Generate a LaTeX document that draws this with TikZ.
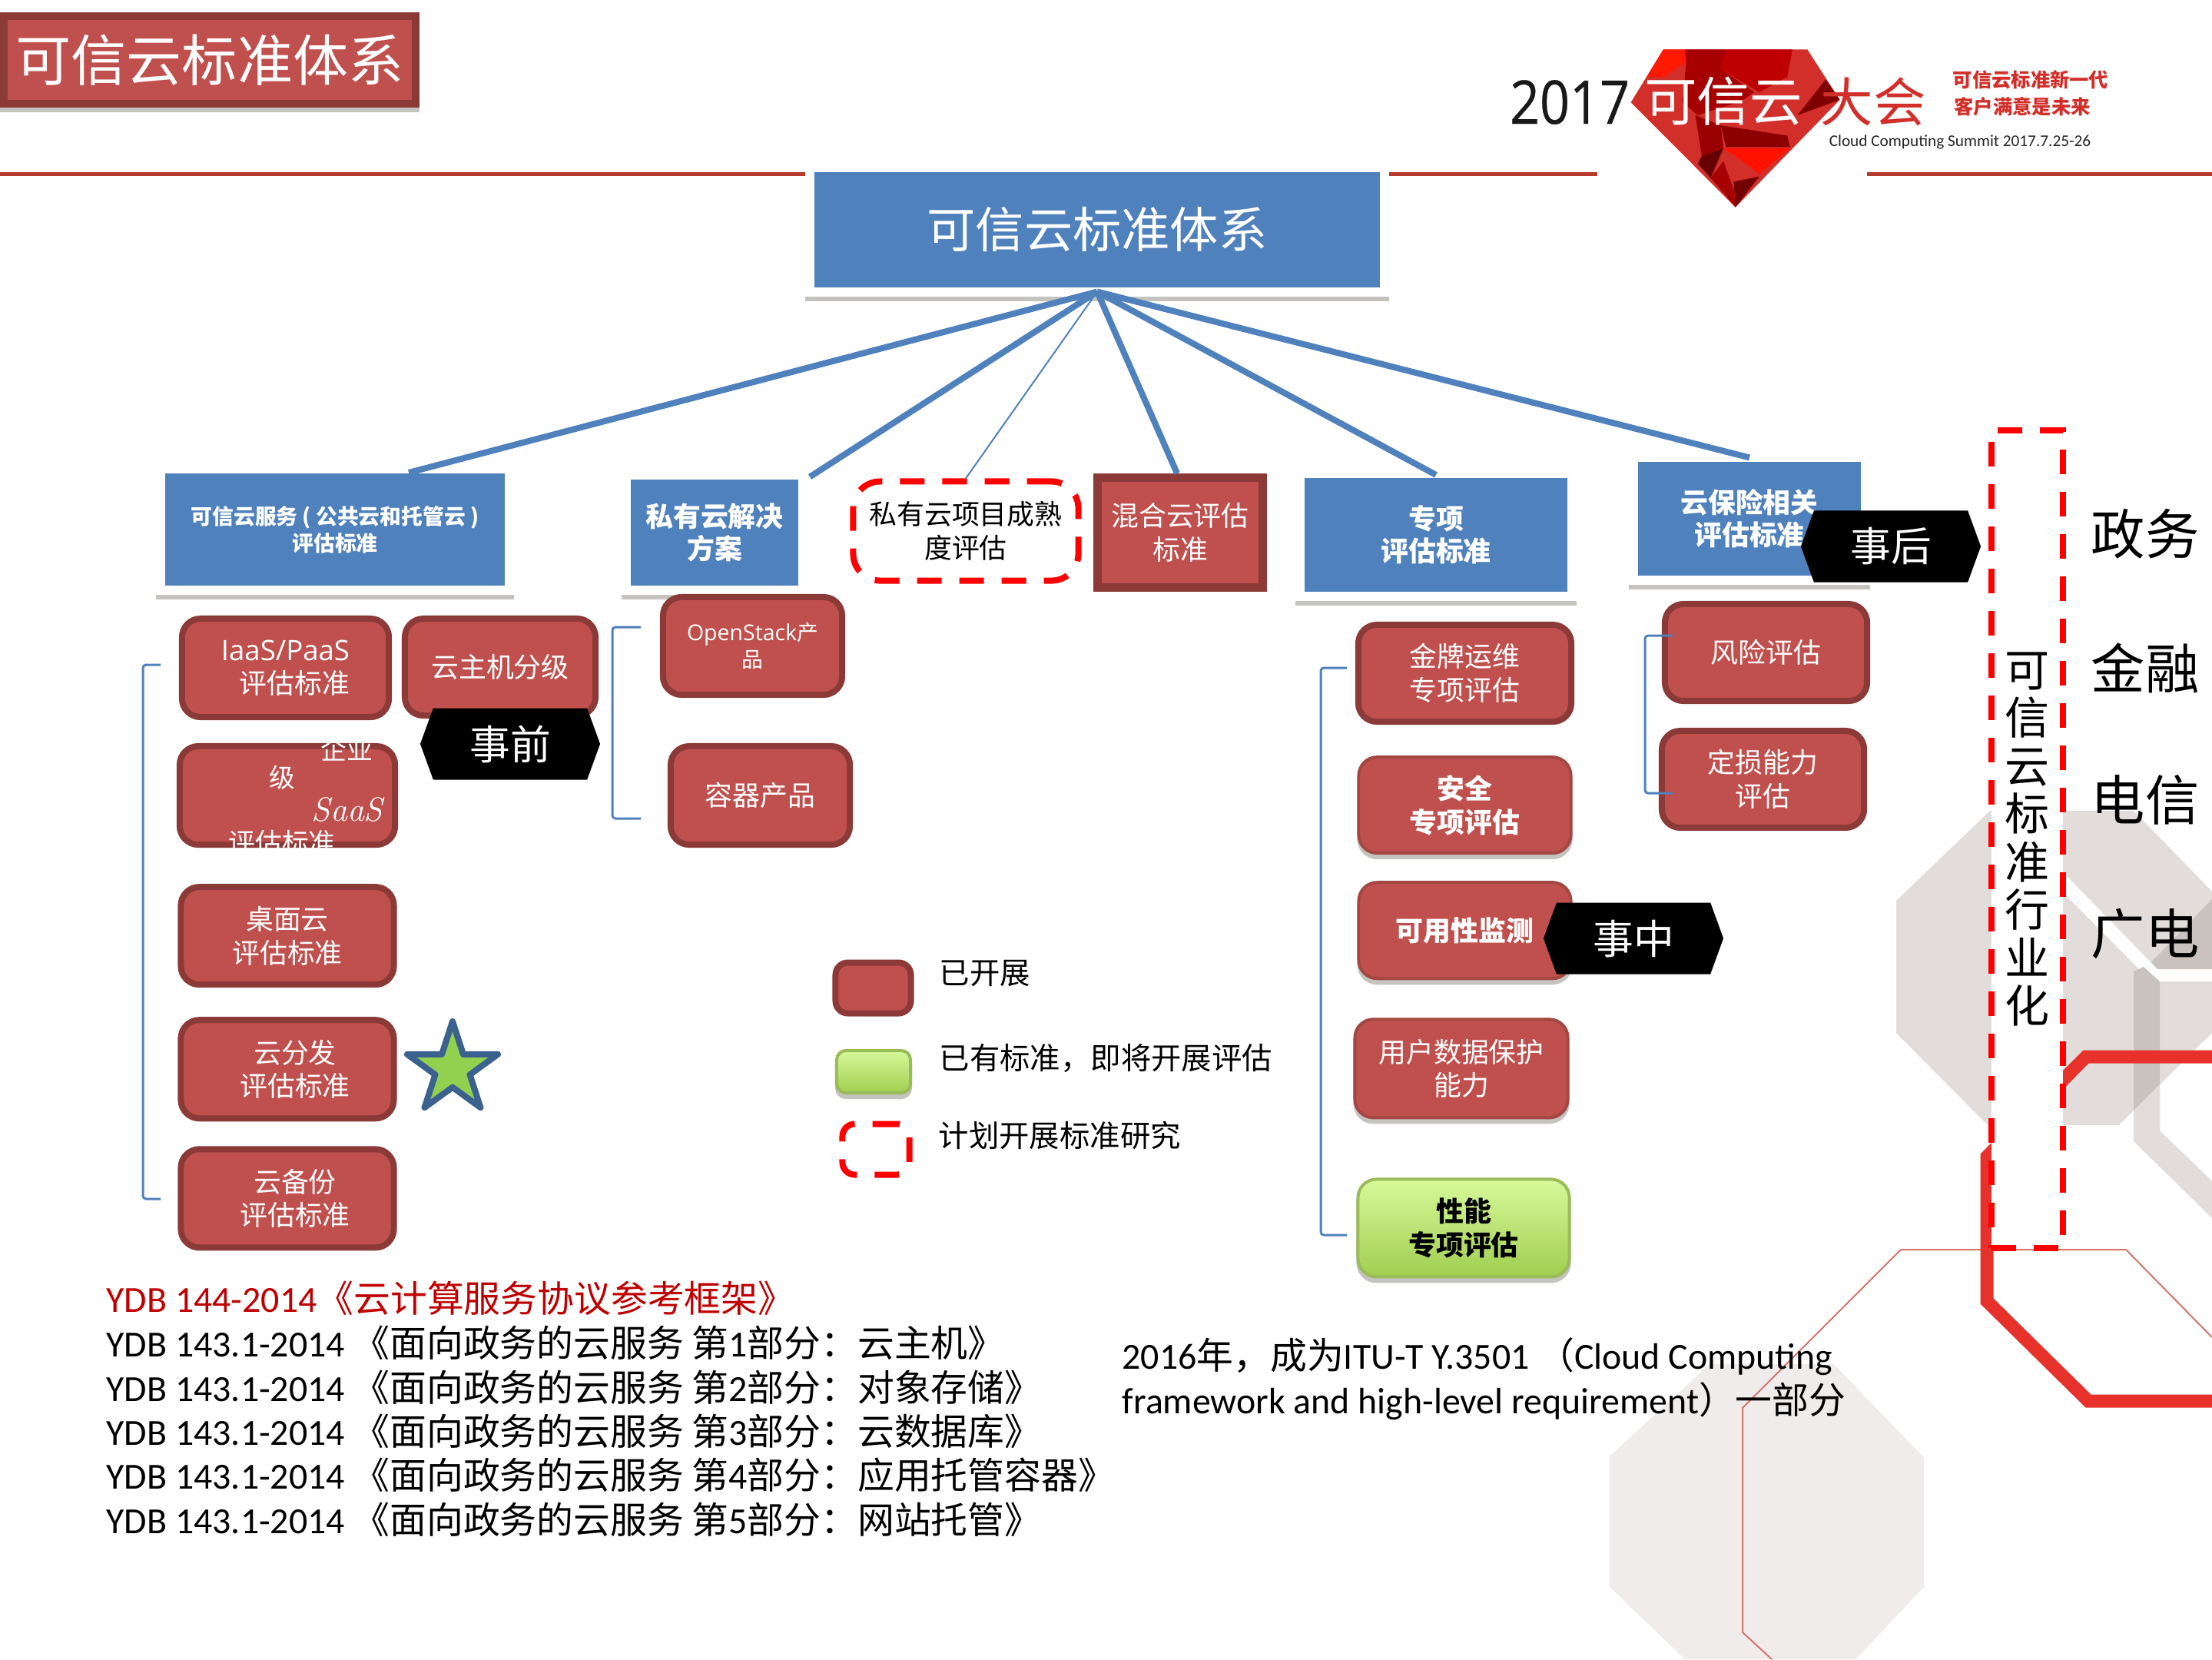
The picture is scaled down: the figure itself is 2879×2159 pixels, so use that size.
\documentclass[tikz,border=0pt]{standalone}
\usepackage{fontspec}
\usepackage{xcolor}
\usetikzlibrary{positioning}
\usetikzlibrary{shapes.geometric,shapes.symbols,shadows}

\newfontfamily\cjk{Noto Sans CJK SC}
\newfontfamily\opens{Open Sans}
\newfontfamily\carl{Carlito}
\newfontfamily\logonum{Open Sans}[FakeStretch=0.87,FakeBold=0.4]
\newcommand{\lat}[1]{{\carl #1}}
\newcommand{\fs}[2]{\cjk\fontsize{#1}{#2}\selectfont}

\definecolor{boxfill}{HTML}{C0504D}
\definecolor{boxedge}{HTML}{8C3A38}
\definecolor{softedge}{HTML}{A34744}
\definecolor{frameblue}{HTML}{4F81BD}
\definecolor{hexgray}{HTML}{E2DDDB}
\definecolor{hexdark}{HTML}{C9C2BF}
\definecolor{hexlight}{HTML}{F0ECEB}
\definecolor{hexred}{HTML}{E6322B}
\definecolor{thinred}{HTML}{D7746B}
\definecolor{rulered}{HTML}{B83A2B}
\definecolor{logored}{HTML}{D32F2A}
\definecolor{docred}{HTML}{C00000}
\definecolor{shadowgray}{HTML}{C4C3BE}
\definecolor{greentop}{HTML}{D7F99A}
\definecolor{greenbot}{HTML}{A0CE50}
\definecolor{greenedge}{HTML}{9ABB59}
\definecolor{starfill}{HTML}{92D050}
\definecolor{staredge}{HTML}{3B618F}

\tikzset{
  softshadow/.style={drop shadow={shadow xshift=0cm,shadow yshift=-.06cm,fill=shadowgray,draw=shadowgray,opacity=1}},
  redbox/.style={rounded corners=.24cm, draw=boxedge, fill=boxfill, line width=.08cm, text=white,
    align=center, inner sep=0pt, font=\fs{10.2}{12.4}},
  softbox/.style={redbox, draw=softedge, line width=.04cm, softshadow},
  greenbox/.style={rounded corners=.24cm, draw=greenedge, line width=.04cm,
    top color=greentop, bottom color=greenbot, softshadow,
    align=center, inner sep=0pt, font=\fs{10.2}{12.4}},
  framebox/.style={draw=white, fill=frameblue, line width=.12cm, text=white, align=center,
    inner sep=0pt, softshadow, font=\fs{10.2}{12.0}\bfseries},
  planbox/.style={draw=red, line width=.08cm, dash pattern=on .32cm off .23cm, align=center, inner sep=0pt},
  phase/.style={signal, signal to=west and east, signal pointer angle=140, fill=black, text=white,
    inner sep=0pt, minimum width=2.34cm, minimum height=.93cm, font=\fs{15}{18}},
  trunk/.style={draw=frameblue, line width=.08cm},
  twig/.style={draw=frameblue, line width=.02cm},
  bracketline/.style={draw=frameblue, line width=.03cm, rounded corners=.04cm},
  rule/.style={draw=rulered, line width=.05cm},
  caption/.style={anchor=west, inner sep=0pt, font=\fs{11.2}{13}},
  docline/.style={anchor=west, inner sep=0pt, font=\fs{13.6}{16}},
  sideword/.style={inner sep=0pt, font=\fs{20}{23}},
}

\begin{document}
\begin{tikzpicture}[x=.01cm,y=-.01cm]
  \useasboundingbox (0,0) rectangle (2879,2159);
  \fill [white] (0,0) rectangle (2879,2159);

  % background hexagons
  \fill [hexlight] (2225,1775) -- (2387,1775) -- (2504,1897) -- (2504,2065) -- (2415,2159) -- (2193,2159) -- (2095,2065) -- (2095,1895) -- cycle;
  \fill [hexgray] (2468,1172) -- (2590,1055) -- (2777,1055) -- (2879,1160) -- (2879,1344) -- (2758,1464) -- (2587,1464) -- (2468,1344) -- cycle;
  \fill [white] (2685,1135) -- (2808,1261) -- (2879,1261) -- (2879,1277) -- (2800,1277) -- (2685,1161) -- cycle;
  \fill [hexdark] (2800,1252) -- (2879,1170) -- (2879,1261) -- (2808,1261) -- cycle;
  \fill [hexdark] (2777,1264) -- (2790,1258) -- (2811,1277) -- (2811,1413) -- (2777,1445) -- cycle;
  \fill [hexgray] (2777,1445) -- (2811,1411) -- (2811,1471) -- (2879,1537) -- (2879,1585) -- (2777,1485) -- cycle;
  \draw [thinred, line width=.02cm] (2306,2159) -- (2268,2124) -- (2268,1832) -- (2474,1626) -- (2767,1626) -- (2879,1740);
  \draw [hexred, line width=.17cm] (2879,1375) -- (2715,1375) -- (2586,1505) -- (2586,1693) -- (2718,1823) -- (2879,1823);

  % header rules
  \draw [rule] (0,226) -- (1048,226);
  \draw [rule] (1808,226) -- (2079,226);
  \draw [rule] (2430,226) -- (2879,226);

  % logo
  \begin{scope}[shift={(2100,50)},x=.003333cm,y=-.003333cm]
    \fill [fill=logored] (195,43) -- (758,43) -- (885,240) -- (477,660) -- (68,250) -- cycle;
    \fill [fill=red!80!orange] (195,43) -- (280,43) -- (285,90) -- (200,150) -- (130,150) -- cycle;
    \fill [fill=red!65!black] (280,43) -- (440,43) -- (420,120) -- (550,210) -- (500,245) -- (330,300) -- (270,250) -- (285,90) -- cycle;
    \fill [fill=red!75!black] (440,43) -- (700,43) -- (680,150) -- (570,210) -- (420,120) -- cycle;
    \fill [fill=red!50!black] (885,240) -- (830,160) -- (720,300) -- cycle;
    \fill [fill=red!60!black] (320,300) -- (420,340) -- (430,430) -- (345,460) -- cycle;
    \fill [fill=red!40!black] (345,460) -- (430,430) -- (380,545) -- (330,490) -- cycle;
    \fill [fill=red!85!orange] (430,430) -- (690,430) -- (570,530) -- (490,470) -- cycle;
    \fill [fill=red!55!black] (420,340) -- (680,380) -- (690,425) -- (440,425) -- cycle;
    \fill [fill=red!65!black] (380,545) -- (430,480) -- (470,590) -- (477,660) -- cycle;
    \fill [fill=red!45!black] (470,560) -- (570,540) -- (477,660) -- cycle;
  \end{scope}
  \node(logoyear) [inner sep=0pt, text=black!90, font=\logonum\fontsize{22.3}{26}\selectfont] at (2043,133) {2017};
  \node(logocloud) [inner sep=0pt, text=white, font=\fs{19.5}{22}] at (2243,132) {可信云};
  \node(logomeet) [inner sep=0pt, text=logored, font=\fs{19.5}{22}] at (2438,132) {大会};
  \node(sloganone) [inner sep=0pt, text=logored, font=\fs{7.2}{9}\bfseries] at (2643,104) {可信云标准新一代};
  \node(slogantwo) [inner sep=0pt, text=logored, font=\fs{7.2}{9}\bfseries] at (2632,139) {客户满意是未来};
  \node(summit) [inner sep=0pt, text=black!85, font=\carl\fontsize{6.05}{7}\selectfont] at (2551,185) {Cloud Computing Summit 2017.7.25-26};

  % title
  \node(title) [draw=boxedge, fill=boxfill, line width=.1cm, text=white, inner sep=0pt, softshadow,
    minimum width=5.36cm, minimum height=1.14cm, font=\fs{20.5}{24}] at (273,78) {可信云标准体系};
  \node(root) [framebox, minimum width=7.48cm, minimum height=1.61cm, font=\fs{18}{22}] at (1428,299) {可信云标准体系};

  % five branches
  \node(svc) [framebox, minimum width=4.54cm, minimum height=1.58cm, font=\fs{7.9}{10}\bfseries] at (436,689)
    {可信云服务 ( 公共云和托管云 )\\评估标准};
  \node(priv) [framebox, minimum width=2.30cm, minimum height=1.49cm] at (930,693) {私有云解决\\方案};
  \node(matur) [planbox, rounded corners=.35cm, minimum width=2.93cm, minimum height=1.29cm, font=\fs{10.2}{12.4}] at (1257,691)
    {私有云项目成熟\\度评估};
  \node(hybrid) [draw=boxedge, fill=boxfill, line width=.11cm, text=white, align=center, inner sep=0pt,
    minimum width=2.15cm, minimum height=1.43cm, font=\fs{10.2}{12.4}] at (1536,693) {混合云评估\\标准};
  \node(special) [framebox, minimum width=3.54cm, minimum height=1.60cm] at (1869,696) {专项\\评估标准};
  \node(insur) [framebox, minimum width=3.02cm, minimum height=1.59cm] at (2277,675) {云保险相关\\评估标准};

  \draw [trunk] ([yshift=.06cm]root.south) -- ([xshift=.96cm,yshift=-.11cm]svc.north);
  \draw [trunk] ([yshift=.06cm]root.south) -- ([xshift=.03cm,yshift=-.08cm]priv.north east);
  \draw [twig] ([yshift=.06cm]root.south) -- (matur.north);
  \draw [trunk] ([yshift=.06cm]root.south) -- ([xshift=-.04cm]hybrid.north);
  \draw [trunk] ([yshift=.06cm]root.south) -- ([yshift=-.08cm]special.north);
  \draw [trunk] ([yshift=.06cm]root.south) -- ([yshift=-.06cm]insur.north);

  % cloud service column
  \node(iaas) [redbox, minimum width=2.69cm, minimum height=1.28cm, align=right] at (371.5,869) {{\opens\fontsize{10.4}{12.4}\selectfont IaaS/PaaS}\\评估标准};
  \node(vmgrade) [redbox, minimum width=2.48cm, minimum height=1.26cm] at (651,868) {云主机分级};
  \node(enterprise) [redbox, minimum width=2.80cm, minimum height=1.28cm] at (374,1035) {};
  \node(entco) [inner sep=0pt, text=white, font=\fs{9.6}{12}] at (451,975) {企业};
  \node(entji) [inner sep=0pt, text=white, font=\fs{9.6}{12}] at (367,1012) {级};
  \node(entsaas) [inner sep=0pt, text=white, font=\fontsize{12.5}{16}\selectfont\itshape] at (452,1053) {SaaS};
  \node(entstd) [inner sep=0pt, text=white, font=\fs{9.9}{12}] at (367,1096) {评估标准};
  \node(desktop) [redbox, minimum width=2.77cm, minimum height=1.27cm, below = .47cm of enterprise] {桌面云\\评估标准};
  \node(cdn) [redbox, minimum width=2.77cm, minimum height=1.28cm, below = .38cm of desktop] {\hspace*{.2cm}云分发\\\hspace*{.2cm}评估标准};
  \node(backup) [redbox, minimum width=2.77cm, minimum height=1.28cm, below = .32cm of cdn] {\hspace*{.2cm}云备份\\\hspace*{.2cm}评估标准};
  \node(star) [star, star points=5, star point ratio=2.618, fill=starfill, draw=staredge,
    line width=.08cm, line join=round, inner sep=0pt, minimum size=1.24cm] at (589,1391) {};

  % private cloud column
  \node(openstack) [redbox, minimum width=2.33cm, minimum height=1.27cm, font=\fs{7.9}{10}] at (979.5,840.5) {{\opens\fontsize{8.1}{10}\selectfont OpenStack}产\\品};
  \node(container) [redbox, minimum width=2.33cm, minimum height=1.28cm] at (989.5,1035) {容器产品};

  % special column
  \node(gold) [redbox, minimum width=2.77cm, minimum height=1.26cm] at (1906.5,876) {金牌运维\\专项评估};
  \node(security) [softbox, minimum width=2.76cm, minimum height=1.25cm, font=\fs{10.2}{12.4}\bfseries, below = .40cm of gold] {安全\\专项评估};
  \node(avail) [softbox, minimum width=2.76cm, minimum height=1.25cm, font=\fs{10.2}{12.4}\bfseries, below = .34cm of security] {可用性监测};
  \node(userdata) [softbox, minimum width=2.77cm, minimum height=1.28cm, below = .49cm of avail, xshift=-.045cm] {用户数据保护\\能力};
  \node(perf) [greenbox, minimum width=2.75cm, minimum height=1.27cm, font=\fs{10.2}{12.4}\bfseries, below = .76cm of userdata, xshift=.03cm] {性能\\专项评估};

  % insurance column
  \node(risk) [redbox, minimum width=2.63cm, minimum height=1.26cm] at (2298.5,849) {风险评估};
  \node(loss) [redbox, minimum width=2.63cm, minimum height=1.26cm] at (2294.5,1014) {定损能力\\评估};

  % brackets
  \coordinate(lefttop) at (209,865);
  \coordinate(leftbot) at (209,1560);
  \coordinate(midtop) at (834,816);
  \coordinate(midbot) at (834,1065);
  \coordinate(spectop) at (1753,869);
  \coordinate(specbot) at (1753,1607);
  \coordinate(instop) at (2177,827);
  \coordinate(insbot) at (2177,1032);
  \draw [bracketline] (lefttop) -- ++(-23,0) |- (leftbot);
  \draw [bracketline] (midtop) -- ++(-37,0) |- (midbot);
  \draw [bracketline] (spectop) -- ++(-34,0) |- (specbot);
  \draw [bracketline] (instop) -- ++(-36,0) |- (insbot);

  % phases
  \node(before) [phase] at (664,968) {事前};
  \node(during) [phase] at (2126,1221) {事中};
  \node(after) [phase] at (2461,711) {事后};

  % legend
  \node(legdone) [redbox, rounded corners=.16cm, minimum width=.98cm, minimum height=.66cm] at (1136.5,1285.5) {};
  \node(legsoon) [greenbox, rounded corners=.12cm, minimum width=.96cm, minimum height=.55cm] at (1137,1394.5) {};
  \node(legplan) [planbox, rounded corners=.16cm, minimum width=.87cm, minimum height=.66cm] at (1140,1495.5) {};
  \node(txtdone) [caption] at (1222,1267) {已开展};
  \node(txtsoon) [caption] at (1222,1377) {已有标准，即将开展评估};
  \node(txtplan) [caption] at (1221,1477) {计划开展标准研究};

  % standards
  \node(docone) [docline, text=docred] at (138,1689) {\lat{YDB 144-2014}《云计算服务协议参考框架》};
  \node(doctwo) [docline] at (138,1747) {\lat{YDB 143.1-2014} 《面向政务的云服务 第\lat{1}部分：云主机》};
  \node(docthree) [docline] at (138,1805) {\lat{YDB 143.1-2014} 《面向政务的云服务 第\lat{2}部分：对象存储》};
  \node(docfour) [docline] at (138,1862) {\lat{YDB 143.1-2014} 《面向政务的云服务 第\lat{3}部分：云数据库》};
  \node(docfive) [docline] at (138,1919) {\lat{YDB 143.1-2014} 《面向政务的云服务 第\lat{4}部分：应用托管容器》};
  \node(docsix) [docline] at (138,1977) {\lat{YDB 143.1-2014} 《面向政务的云服务 第\lat{5}部分：网站托管》};
  \node(ituone) [docline] at (1460,1765) {\lat{2016}年，成为\lat{ITU-T Y.3501} （\lat{Cloud Computing}};
  \node(itutwo) [docline] at (1460,1823) {\lat{framework and high-level requirement}）一部分};

  % industries
  \node(trade) [planbox, fill=white, minimum width=.93cm, minimum height=10.64cm, font=\fs{16.5}{17.75}] at (2638.5,1092)
    {可\\信\\云\\标\\准\\行\\业\\化};
  \node(gov) [sideword] at (2792,695) {政务};
  \node(fin) [sideword] at (2792,869) {金融};
  \node(tel) [sideword] at (2792,1041) {电信};
  \node(radio) [sideword] at (2792,1215) {广电};
\end{tikzpicture}
\end{document}
